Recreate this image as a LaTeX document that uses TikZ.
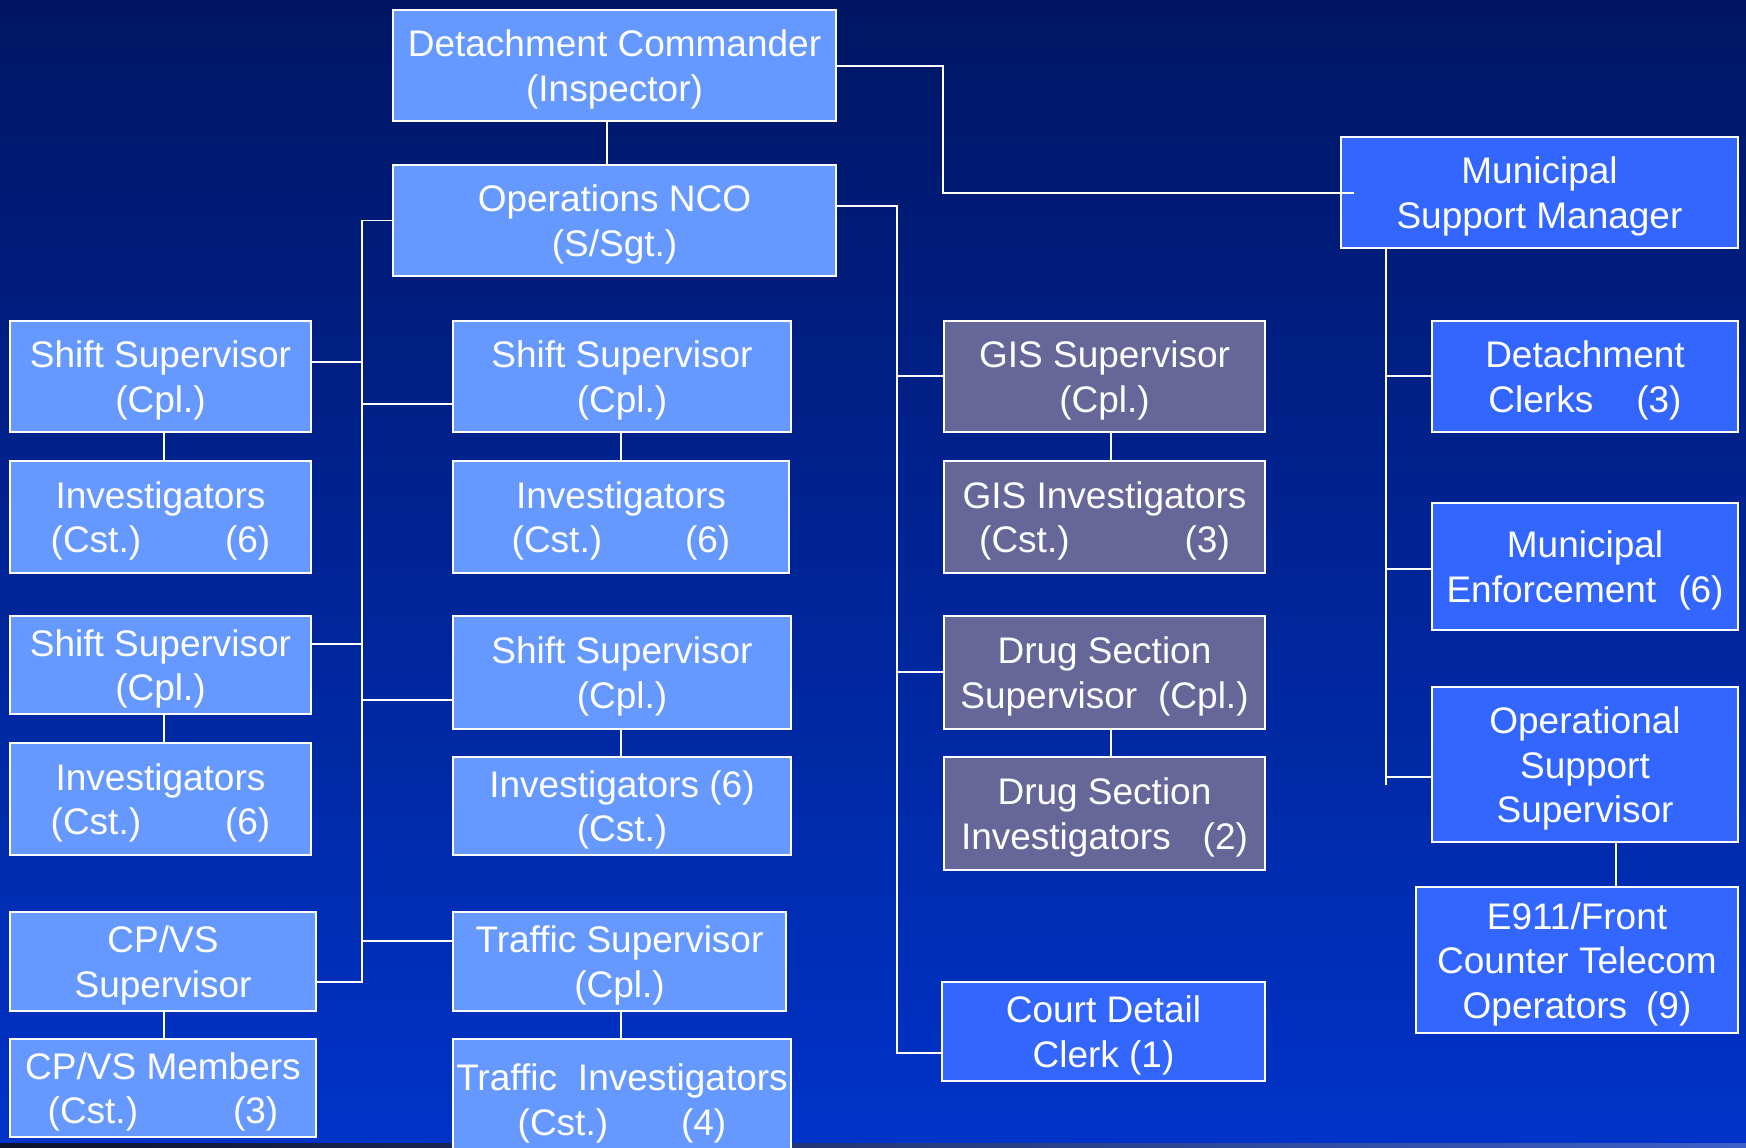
\documentclass[tikz,border=0pt]{standalone}
\usepackage{fontspec}
\setmainfont{Liberation Sans}
\usetikzlibrary{backgrounds}
\definecolor{bgtop}{RGB}{0,22,100}
\definecolor{bgbot}{RGB}{0,51,200}
\definecolor{lblue}{HTML}{6699FF}
\definecolor{gpurple}{HTML}{666699}
\definecolor{bblue}{HTML}{3366FF}
\definecolor{stripL}{RGB}{12,18,45}
\definecolor{stripR}{RGB}{60,95,200}
\newcommand\tstr{\rule{0pt}{37pt}}
\newcommand\bstr{\rule[-10pt]{0pt}{0pt}}
\tikzset{
  box/.style={draw=white, line width=2pt, text=white, align=center, inner sep=0pt,
    font=\fontsize{37}{44.5}\selectfont},
  lb/.style={box, fill=lblue},
  gp/.style={box, fill=gpurple},
  bb/.style={box, fill=bblue},
  conn/.style={draw=white, line width=1.6pt}
}
\begin{document}
\begin{tikzpicture}[x=1pt,y=-1pt]
\useasboundingbox (0,0) rectangle (1746,1148);

% nodes
\node[lb, minimum width=443pt, minimum height=111pt] (dc) at (614.5,65.5) {\tstr Detachment Commander\\(Inspector)\bstr};
\node[lb, minimum width=443pt, minimum height=111pt] (nco) at (614.5,220.5) {\tstr Operations NCO\\(S/Sgt.)\bstr};
\node[bb, minimum width=397pt, minimum height=111pt] (msm) at (1539.5,192.5) {\tstr Municipal\\Support Manager\bstr};

\node[lb, minimum width=301pt, minimum height=111pt] (ss1) at (160.5,376.5) {\tstr Shift Supervisor\\(Cpl.)\bstr};
\node[lb, minimum width=301pt, minimum height=112pt] (inv1) at (160.5,517) {\tstr Investigators\\(Cst.)\hspace{84pt}(6)\bstr};
\node[lb, minimum width=301pt, minimum height=98pt] (ss2) at (160.5,665) {\tstr Shift Supervisor\\(Cpl.)\bstr};
\node[lb, minimum width=301pt, minimum height=112pt] (inv2) at (160.5,799) {\tstr Investigators\\(Cst.)\hspace{84pt}(6)\bstr};
\node[lb, minimum width=306pt, minimum height=99pt] (cpvs) at (163,961.5) {\tstr CP/VS\\Supervisor\bstr};
\node[lb, minimum width=306pt, minimum height=98pt] (cpvsm) at (163,1088) {\tstr CP/VS Members\\(Cst.)\hspace{95pt}(3)\bstr};

\node[lb, minimum width=338pt, minimum height=111pt] (ssA) at (622,376.5) {\tstr Shift Supervisor\\(Cpl.)\bstr};
\node[lb, minimum width=336pt, minimum height=112pt] (invA) at (621,517) {\tstr Investigators\\(Cst.)\hspace{83pt}(6)\bstr};
\node[lb, minimum width=338pt, minimum height=113pt] (ssB) at (622,672.5) {\tstr Shift Supervisor\\(Cpl.)\bstr};
\node[lb, minimum width=338pt, minimum height=98pt] (invB) at (622,806) {\tstr Investigators (6)\\(Cst.)\bstr};
\node[lb, minimum width=333pt, minimum height=99pt] (ts) at (619.5,961.5) {\tstr Traffic Supervisor\\(Cpl.)\bstr};
\node[lb, minimum width=338pt, minimum height=121pt] (ti) at (622,1099.5) {\tstr Traffic\hspace{21pt}Investigators\\(Cst.)\hspace{73pt}(4)\bstr};

\node[gp, minimum width=321pt, minimum height=111pt] (gis) at (1104.5,376.5) {\tstr GIS Supervisor\\(Cpl.)\bstr};
\node[gp, minimum width=321pt, minimum height=112pt] (gisi) at (1104.5,517) {\tstr GIS Investigators\\(Cst.)\hspace{115pt}(3)\bstr};
\node[gp, minimum width=321pt, minimum height=113pt] (drug) at (1104.5,672.5) {\tstr Drug Section\\Supervisor\hspace{21pt}(Cpl.)\bstr};
\node[gp, minimum width=321pt, minimum height=113pt] (drugi) at (1104.5,813.5) {\tstr Drug Section\\Investigators\hspace{32pt}(2)\bstr};
\node[bb, minimum width=323pt, minimum height=99pt] (court) at (1103.5,1031.5) {\tstr Court Detail\\Clerk (1)\bstr};

\node[bb, minimum width=306pt, minimum height=111pt] (dcl) at (1585,376.5) {\tstr Detachment\\Clerks\hspace{43pt}(3)\bstr};
\node[bb, minimum width=306pt, minimum height=127pt] (menf) at (1585,566.5) {\tstr Municipal\\Enforcement\hspace{22pt}(6)\bstr};
\node[bb, minimum width=306pt, minimum height=155pt] (oss) at (1585,764.5) {\tstr Operational\\Support\\Supervisor\bstr};
\node[bb, minimum width=322pt, minimum height=146pt] (e911) at (1577,960) {\tstr E911/Front\\Counter Telecom\\Operators\hspace{19pt}(9)\bstr};

% coordinates for connectors
\coordinate (L) at (362,0);
\coordinate (M) at (897,0);
\coordinate (R) at (1386,0);
\coordinate (T) at (943,0);
\coordinate (xa) at (164,0);
\coordinate (xb) at (621,0);
\coordinate (xc) at (1111,0);
\coordinate (xd) at (1616,0);
\coordinate (xe) at (607,0);
\coordinate (ydc) at (0,66);
\coordinate (ymsm) at (0,193);
\coordinate (ync) at (0,206);
\coordinate (ys1) at (0,362);
\coordinate (ysA) at (0,404);
\coordinate (ys2) at (0,644);
\coordinate (ysB) at (0,700);
\coordinate (yts) at (0,941);
\coordinate (ycp) at (0,982);
\coordinate (ygis) at (0,376);
\coordinate (ydrug) at (0,672);
\coordinate (yct) at (0,1053);
\coordinate (ydcl) at (0,376);
\coordinate (ymenf) at (0,569);
\coordinate (yoss) at (0,777);
\coordinate (yrend) at (0,785);

\begin{scope}[on background layer]
\shade[top color=bgtop, bottom color=bgbot] (0,0) rectangle (1746,1148);
\shade[left color=stripL, right color=stripR] (0,1143) rectangle (1746,1148);
% trunks
\draw[conn] (nco.west) -| (L |- ycp) -- (cpvs.east |- ycp);
\draw[conn] (nco.east |- ync) -| (M |- yct) -- (court.west |- yct);
\draw[conn] (msm.south -| R) -- (R |- yrend);
\draw[conn] (dc.south -| xe) -- (nco.north -| xe);
% left branches
\draw[conn] (ss1.east |- ys1) -- (L |- ys1);
\draw[conn] (ss2.east |- ys2) -- (L |- ys2);
\draw[conn] (L |- ysA) -- (ssA.west |- ysA);
\draw[conn] (L |- ysB) -- (ssB.west |- ysB);
\draw[conn] (L |- yts) -- (ts.west |- yts);
% middle branches
\draw[conn] (M |- ygis) -- (gis.west |- ygis);
\draw[conn] (M |- ydrug) -- (drug.west |- ydrug);
% right branches
\draw[conn] (R |- ydcl) -- (dcl.west |- ydcl);
\draw[conn] (R |- ymenf) -- (menf.west |- ymenf);
\draw[conn] (R |- yoss) -- (oss.west |- yoss);
% supervisor to staff
\draw[conn] (ss1.south -| xa) -- (inv1.north -| xa);
\draw[conn] (ss2.south -| xa) -- (inv2.north -| xa);
\draw[conn] (cpvs.south -| xa) -- (cpvsm.north -| xa);
\draw[conn] (ssA.south -| xb) -- (invA.north -| xb);
\draw[conn] (ssB.south -| xb) -- (invB.north -| xb);
\draw[conn] (ts.south -| xb) -- (ti.north -| xb);
\draw[conn] (gis.south -| xc) -- (gisi.north -| xc);
\draw[conn] (drug.south -| xc) -- (drugi.north -| xc);
\draw[conn] (oss.south -| xd) -- (e911.north -| xd);
\end{scope}
% commander to municipal support manager (runs slightly into the box)
\draw[conn] (dc.east |- ydc) -| (T |- ymsm) -- ([xshift=14pt]msm.west |- ymsm);
\end{tikzpicture}
\end{document}
